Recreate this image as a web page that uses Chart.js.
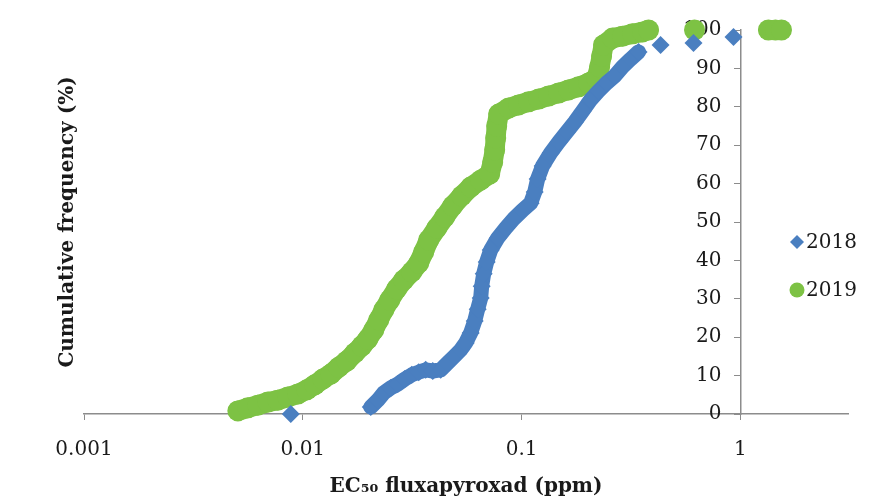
<!DOCTYPE html>
<html>
<head>
<meta charset="utf-8">
<script src="https://cdn.jsdelivr.net/npm/chart.js@4/dist/chart.umd.min.js"></script>
<style>
  body { margin: 0; background: #fff; }
  #wrap { width: 881px; height: 502px; }
</style>
</head>
<body>
<div id="wrap"><canvas id="cdf" width="881" height="502"></canvas></div>
<script>
// EC50 values (ppm) and cumulative frequency (%)
const ec2018 = [0.00881, 0.02044, 0.02201, 0.02344, 0.02522, 0.02715, 0.02922, 0.03146, 0.03386, 0.03644,
  0.03924, 0.04266, 0.04593, 0.04943, 0.05265, 0.05549, 0.05848, 0.0610, 0.06296, 0.06498,
  0.06567, 0.06706, 0.06921, 0.07218, 0.0777, 0.08451, 0.09194, 0.1011, 0.1099, 0.1147,
  0.1183, 0.1247, 0.1357, 0.1476, 0.1605, 0.1746, 0.1899, 0.2065, 0.2247, 0.2444,
  0.2659, 0.2891, 0.3145, 0.3421, 0.4312, 0.6101, 0.929];
const freq2018 = [0, 1.8, 3.6, 5.5, 6.8, 7.8, 9.1, 10.2, 10.9, 11.5,
  11.2, 11.5, 13.3, 15.1, 16.7, 18.5, 21.1, 24.2, 27.3, 30.2,
  33.3, 36.5, 39.6, 42.7, 45.8, 48.4, 50.8, 53.1, 54.9, 57.8,
  61.2, 64.6, 68.0, 70.8, 73.4, 76.0, 78.9, 81.8, 84.1, 86.2,
  88.0, 90.4, 92.4, 94.3, 96.1, 96.6, 98.2];

const ec2019 = [0.005048, 0.005609, 0.006229, 0.006922, 0.007688, 0.00854, 0.009489, 0.01043, 0.01134, 0.01234,
  0.01342, 0.0146, 0.01588, 0.01728, 0.0186, 0.01981, 0.0211, 0.02223, 0.02344, 0.02496,
  0.02686, 0.02892, 0.03146, 0.03386, 0.03569, 0.03761, 0.04091, 0.0445, 0.0484, 0.05321,
  0.05848, 0.06498, 0.07143, 0.07373, 0.07529, 0.07609, 0.0769, 0.07852, 0.08724, 0.09689,
  0.1076, 0.1196, 0.1328, 0.1476, 0.1639, 0.1821, 0.2022, 0.22, 0.2271, 0.2319,
  0.2368, 0.2603, 0.2891, 0.3212, 0.3568, 0.3801, 0.6166, 1.342, 1.445, 1.539];
const freq2019 = [0.8, 1.6, 2.3, 3.1, 3.6, 4.4, 5.2, 6.3, 7.6, 9.1,
  10.4, 12.2, 13.8, 15.9, 17.7, 19.5, 21.9, 24.5, 27.1, 29.7,
  32.6, 34.9, 37.0, 39.3, 42.2, 45.3, 48.4, 51.3, 54.2, 56.8,
  59.1, 60.9, 62.5, 65.6, 68.8, 71.9, 75.0, 78.1, 79.7, 80.5,
  81.3, 82.0, 82.8, 83.6, 84.4, 85.2, 86.2, 87.5, 90.4, 93.2,
  96.1, 97.9, 98.4, 99.0, 99.5, 100, 100, 100, 100, 100];

const seriesNames = ["2018", "2019"];
const xTickValues = [0.001, 0.01, 0.1, 1];
const xTickLabels = ["0.001", "0.01", "0.1", "1"];

const BLUE = "#4a7fc0";
const GREEN = "#7dc244";
const FONT = "'DejaVu Serif', serif";

function toPoints(xs, ys) {
  return xs.map((v, i) => ({ x: v, y: ys[i] }));
}

// points that sit apart on the plot are not joined into the band
function bandColor(color) {
  return ctx => {
    const d = Math.hypot(ctx.p1.x - ctx.p0.x, ctx.p1.y - ctx.p0.y);
    return d > 18 ? "rgba(0,0,0,0)" : color;
  };
}

const legendPlugin = {
  id: "sideLegend",
  afterDraw(chart) {
    const ctx = chart.ctx;
    const area = chart.chartArea;
    const ys = [242, 290];
    chart.data.datasets.forEach((ds, i) => {
      const x = area.right - 51;
      const y = ys[i];
      ctx.save();
      ctx.fillStyle = ds.pointBackgroundColor;
      Chart.helpers.drawPoint(ctx, { pointStyle: ds.pointStyle, radius: i === 0 ? 7 : 7.5, rotation: 0, borderWidth: 0 }, x, y);
      ctx.fillStyle = "#1a1a1a";
      ctx.font = "20px " + FONT;
      ctx.textBaseline = "middle";
      ctx.textAlign = "left";
      ctx.fillText(ds.label, x + 9, y + 1);
      ctx.restore();
    });
  }
};

new Chart(document.getElementById("cdf"), {
  type: "scatter",
  data: {
    datasets: [
      {
        label: seriesNames[0],
        data: toPoints(ec2018, freq2018),
        showLine: true,
        borderWidth: 15,
        borderColor: BLUE,
        borderCapStyle: "round",
        borderJoinStyle: "round",
        segment: { borderColor: bandColor(BLUE) },
        pointStyle: "rectRot",
        pointRadius: 9,
        pointBorderWidth: 0,
        pointBackgroundColor: BLUE,
        clip: false
      },
      {
        label: seriesNames[1],
        data: toPoints(ec2019, freq2019),
        showLine: true,
        borderWidth: 20,
        borderColor: GREEN,
        borderCapStyle: "round",
        borderJoinStyle: "round",
        segment: { borderColor: bandColor(GREEN) },
        pointStyle: "circle",
        pointRadius: 10.5,
        pointBorderWidth: 0,
        pointBackgroundColor: GREEN,
        clip: false
      }
    ]
  },
  options: {
    responsive: false,
    animation: false,
    events: [],
    layout: { padding: { left: 52, right: 33, top: 30, bottom: 3 } },
    plugins: {
      legend: { display: false },
      tooltip: { enabled: false }
    },
    scales: {
      x: {
        type: "logarithmic",
        min: 0.001,
        max: 3.1,
        afterBuildTicks: scale => {
          scale.ticks = xTickValues.map(v => ({ value: v }));
        },
        ticks: {
          autoSkip: false,
          maxRotation: 0,
          padding: 18,
          color: "#1a1a1a",
          font: { family: FONT, size: 20 },
          callback: value => {
            const i = xTickValues.findIndex(v => Math.abs(v - value) < v * 1e-6);
            return i >= 0 ? xTickLabels[i] : "";
          }
        },
        grid: { drawOnChartArea: false, tickLength: 6, color: "#8c8c8c" },
        border: { color: "#8c8c8c", width: 1.5 },
        title: {
          display: true,
          text: "EC₅₀ fluxapyroxad (ppm)",
          color: "#1a1a1a",
          font: { family: FONT, size: 20, weight: "bold" },
          padding: { top: -5, bottom: 0 }
        }
      },
      y: {
        position: { x: 1 },
        min: 0,
        max: 100,
        z: 1,
        ticks: {
          stepSize: 10,
          color: "#1a1a1a",
          font: { family: FONT, size: 20 },
          // labels sit left of the axis line with a small gap
          callback: value => value + "   "
        },
        grid: { drawOnChartArea: false, tickLength: 6, color: "#8c8c8c" },
        border: { color: "#8c8c8c", width: 1.5 }
      },
      yTitle: {
        type: "linear",
        position: "left",
        axis: "y",
        min: 0,
        max: 100,
        ticks: { display: false },
        grid: { display: false, drawTicks: false },
        border: { display: false },
        title: {
          display: true,
          text: "Cumulative frequency (%)",
          color: "#1a1a1a",
          font: { family: FONT, size: 20, weight: "bold" },
          padding: { top: 4, bottom: 4 }
        }
      }
    }
  },
  plugins: [legendPlugin]
});
</script>
</body>
</html>
